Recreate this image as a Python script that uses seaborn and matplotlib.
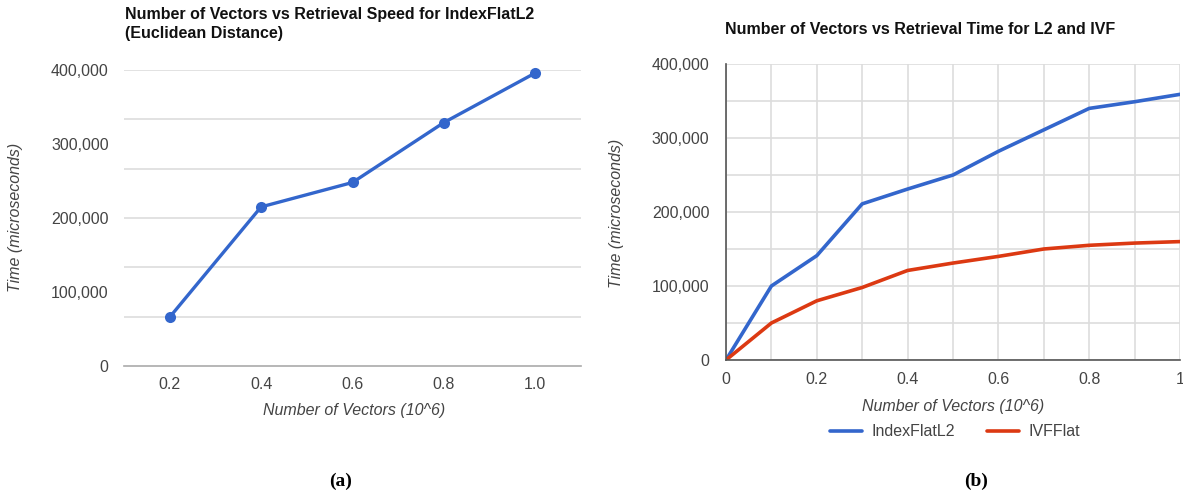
import numpy as np
import pandas as pd
import matplotlib
matplotlib.use("Agg")
import matplotlib.pyplot as plt
import seaborn as sns
from matplotlib.ticker import FuncFormatter, MultipleLocator

# -------------------------
# DATA
# -------------------------
# (a) IndexFlatL2 only
vectors_a = [0.2, 0.4, 0.6, 0.8, 1.0]
time_a = [66000, 215000, 248000, 329000, 396000]

# (b) IndexFlatL2 vs IVFFlat
vectors_b = [0.0, 0.1, 0.2, 0.3, 0.4, 0.5, 0.6, 0.7, 0.8, 0.9, 1.0]
time_l2 = [0, 100000, 141000, 211000, 231000, 250000, 282000, 311000, 340000, 349000, 359000]
time_ivf = [0, 50000, 80000, 98000, 121000, 131000, 140000, 150000, 155000, 158000, 160000]
series_names = ["IndexFlatL2", "IVFFlat"]

BLUE = "#3366cc"
RED = "#dc3912"
GRID = "#dddddd"
TXT = "#444444"

sns.set_theme(style="white")
plt.rcParams["font.family"] = ["Liberation Sans", "DejaVu Sans"]

W, H = 1183, 497
fig = plt.figure(figsize=(W / 100, H / 100), dpi=100)


def fx(px):
    return px / W


def fy(py):
    return 1 - py / H


comma_fmt = FuncFormatter(lambda v, _: f"{int(round(v)):,}")

# -------------------------
# PANEL (a)
# -------------------------
ax_a = fig.add_axes([fx(124), fy(366), fx(581) - fx(124), fy(70) - fy(366)])
# gridlines in panel (a) do not line up with the labelled ticks (6 divisions)
for g in np.linspace(0, 400000, 7)[1:]:
    ax_a.axhline(g, color=GRID, linewidth=1.2, zorder=0)
sns.lineplot(x=vectors_a, y=time_a, ax=ax_a, color=BLUE, linewidth=2.4,
             marker="o", markersize=8, markeredgewidth=0, clip_on=False)
ax_a.set_xlim(0.1, 1.1)
ax_a.set_ylim(0, 400000)
ax_a.set_xticks(vectors_a)
ax_a.set_xticklabels([f"{v:.1f}" for v in vectors_a])
ax_a.yaxis.set_major_locator(MultipleLocator(100000))
ax_a.yaxis.set_major_formatter(comma_fmt)
ax_a.grid(False)
for s in ["top", "right", "left"]:
    ax_a.spines[s].set_visible(False)
ax_a.spines["bottom"].set_color("#aaaaaa")
ax_a.spines["bottom"].set_linewidth(1.2)
ax_a.tick_params(axis="both", which="both", length=0, labelsize=11.5, labelcolor=TXT)
ax_a.tick_params(axis="y", pad=11)
ax_a.tick_params(axis="x", pad=8)
ax_a.set_xlabel("")
ax_a.set_ylabel("")

fig.text(fx(125), fy(24), "Number of Vectors vs Retrieval Speed for IndexFlatL2\n(Euclidean Distance)",
         ha="left", va="center", fontsize=11.5, fontweight="bold", color="#111111", linespacing=1.3)
fig.text(fx(354), fy(411), "Number of Vectors (10^6)", ha="center", va="center",
         fontsize=11.5, style="italic", color=TXT)
fig.text(fx(16), fy(217), "Time (microseconds)", ha="center", va="center", rotation=90,
         fontsize=11.5, style="italic", color=TXT)

# -------------------------
# PANEL (b)
# -------------------------
ax_b = fig.add_axes([fx(726), fy(360), fx(1180) - fx(726), fy(64) - fy(360)])
df_b = pd.DataFrame({
    "Vectors": vectors_b * 2,
    "Time": time_l2 + time_ivf,
    "Index": [series_names[0]] * len(vectors_b) + [series_names[1]] * len(vectors_b),
})
sns.lineplot(data=df_b, x="Vectors", y="Time", hue="Index", ax=ax_b,
             palette=[BLUE, RED], linewidth=2.6, legend=True)
ax_b.set_xlim(0, 1)
ax_b.set_ylim(0, 400000)
ax_b.xaxis.set_major_locator(MultipleLocator(0.2))
ax_b.xaxis.set_minor_locator(MultipleLocator(0.1))
ax_b.xaxis.set_major_formatter(FuncFormatter(lambda v, _: "0" if v == 0 else ("1" if abs(v - 1) < 1e-9 else f"{v:.1f}")))
ax_b.yaxis.set_major_locator(MultipleLocator(100000))
ax_b.yaxis.set_minor_locator(MultipleLocator(50000))
ax_b.yaxis.set_major_formatter(comma_fmt)
ax_b.grid(which="both", color=GRID, linewidth=1.2)
ax_b.set_axisbelow(True)
for s in ["top", "right"]:
    ax_b.spines[s].set_visible(False)
for s in ["left", "bottom"]:
    ax_b.spines[s].set_color("#555555")
    ax_b.spines[s].set_linewidth(1.2)
ax_b.tick_params(axis="both", which="both", length=0, labelsize=11.5, labelcolor=TXT)
ax_b.tick_params(axis="y", pad=12)
ax_b.tick_params(axis="x", pad=9)
ax_b.set_xlabel("")
ax_b.set_ylabel("")

handles, labels = ax_b.get_legend_handles_labels()
ax_b.legend(handles, labels, loc="center", bbox_to_anchor=(fx(955), fy(432)),
            bbox_transform=fig.transFigure, ncol=2, frameon=False, fontsize=11.5,
            handlelength=2.0, columnspacing=2.0, handletextpad=0.6, labelcolor=TXT)

fig.text(fx(920), fy(29), "Number of Vectors vs Retrieval Time for L2 and IVF",
         ha="center", va="center", fontsize=11.5, fontweight="bold", color="#111111")
fig.text(fx(953), fy(406), "Number of Vectors (10^6)", ha="center", va="center",
         fontsize=11.5, style="italic", color=TXT)
fig.text(fx(617), fy(213), "Time (microseconds)", ha="center", va="center", rotation=90,
         fontsize=11.5, style="italic", color=TXT)

# -------------------------
# CAPTIONS
# -------------------------
fig.text(fx(341), fy(481), "(a)", ha="center", va="center", fontsize=14,
         fontweight="bold", family="Liberation Serif", color="#000000")
fig.text(fx(976), fy(481), "(b)", ha="center", va="center", fontsize=14,
         fontweight="bold", family="Liberation Serif", color="#000000")

fig.savefig("out.png", dpi=100, facecolor="white")
